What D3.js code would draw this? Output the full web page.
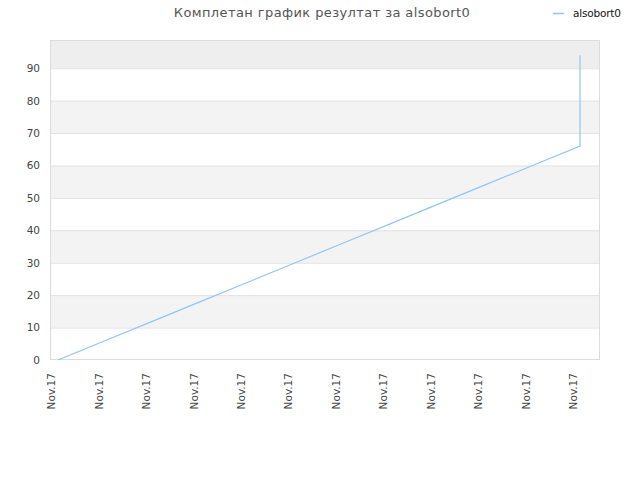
<!DOCTYPE html>
<html><head><meta charset="utf-8">
<script src="https://cdn.jsdelivr.net/npm/d3@7"></script>
<style>body{margin:0;background:#fff}svg{display:block}</style>
</head><body>
<svg id="c" width="640" height="480"></svg>
<script>
const titleText = "Комплетан график резултат за alsobort0";
const seriesName = "alsobort0";
const xLabels = ["Nov.17","Nov.17","Nov.17","Nov.17","Nov.17","Nov.17","Nov.17","Nov.17","Nov.17","Nov.17","Nov.17","Nov.17"];
const xIndex = [0,1,2,3,4,5,6,7,8,9,10,11,11];
const yValues = [0,6,12,18,24,30,36,42,48,54,60,66,94];
const yTicks = [0,10,20,30,40,50,60,70,80,90];

const svg = d3.select("#c");
const L = 50, R = 600, T = 40, B = 360;
const font = "DejaVu Sans, sans-serif";
const x = d3.scaleLinear().domain([0, 11]).range([58, 580]);
const y = d3.scaleLinear().domain([0, 98.7]).range([B, T]);

// bands
const bandEdges = yTicks.concat([98.7]);
for (let i = 0; i < bandEdges.length - 1; i++) {
  const fill = i === bandEdges.length - 2 ? "#eeeeee" : (i % 2 === 1 ? "#f3f3f3" : "#ffffff");
  svg.append("rect").attr("x", L).attr("width", R - L)
    .attr("y", y(bandEdges[i + 1])).attr("height", y(bandEdges[i]) - y(bandEdges[i + 1]))
    .attr("fill", fill);
}
// grid
svg.append("g").selectAll("line").data(yTicks.slice(1)).join("line")
  .attr("x1", L).attr("x2", R).attr("y1", d => y(d) + 0.5).attr("y2", d => y(d) + 0.5)
  .attr("stroke", "#e2e2e2");
// frame
svg.append("rect").attr("x", L + 0.5).attr("y", T + 0.5).attr("width", R - L - 1).attr("height", B - T - 1)
  .attr("fill", "none").attr("stroke", "#dcdcdc");

// y axis
const ya = d3.axisLeft(y).tickValues(yTicks).tickSize(0).tickPadding(10);
const yg = svg.append("g").attr("transform", `translate(${L},0)`).call(ya);
yg.select(".domain").remove();
yg.selectAll("text").attr("font-family", font).attr("font-size", 10.5).attr("fill", "#444");

// x axis
const xa = d3.axisBottom(x).tickValues(d3.range(xLabels.length)).tickFormat((d, i) => xLabels[i]).tickSize(0);
const xg = svg.append("g").attr("transform", `translate(-7,${B})`).call(xa);
xg.select(".domain").remove();
xg.selectAll("text").attr("font-family", font).attr("font-size", 10.5).attr("fill", "#444")
  .attr("text-anchor", "end").attr("transform", "rotate(-90)").attr("x", -13).attr("y", 0).attr("dy", "0.35em");

// line
const pts = yValues.map((v, i) => [xIndex[i], v]);
svg.append("path").datum(pts)
  .attr("d", d3.line().x(d => x(d[0])).y(d => y(d[1])))
  .attr("fill", "none").attr("stroke", "#92c5f5").attr("stroke-width", 1.2);

// title
svg.append("text").attr("x", 322).attr("y", 17).attr("text-anchor", "middle")
  .attr("font-family", font).attr("font-size", 13).attr("letter-spacing", 0.4).attr("fill", "#555").text(titleText);

// legend
svg.append("line").attr("x1", 553).attr("x2", 564).attr("y1", 13.5).attr("y2", 13.5)
  .attr("stroke", "#92c5f5").attr("stroke-width", 1.5);
svg.append("text").attr("x", 573).attr("y", 17).attr("font-family", font).attr("font-size", 10.5)
  .attr("letter-spacing", -0.2).attr("fill", "#111").text(seriesName);
</script>
</body></html>
